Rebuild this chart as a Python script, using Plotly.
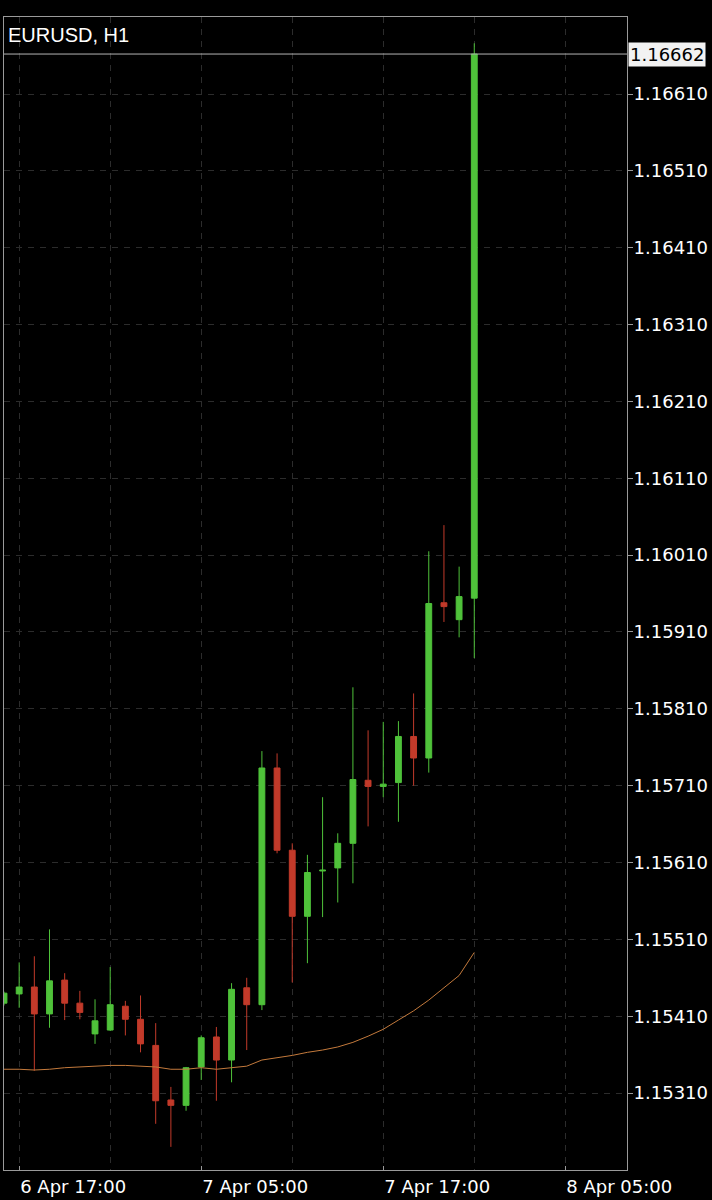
import plotly.graph_objects as go

# hourly EURUSD bars, 6 Apr 16:00 .. 7 Apr 23:00
times = [
    "2021-04-06 16:00", "2021-04-06 17:00", "2021-04-06 18:00", "2021-04-06 19:00",
    "2021-04-06 20:00", "2021-04-06 21:00", "2021-04-06 22:00", "2021-04-06 23:00",
    "2021-04-07 00:00", "2021-04-07 01:00", "2021-04-07 02:00", "2021-04-07 03:00",
    "2021-04-07 04:00", "2021-04-07 05:00", "2021-04-07 06:00", "2021-04-07 07:00",
    "2021-04-07 08:00", "2021-04-07 09:00", "2021-04-07 10:00", "2021-04-07 11:00",
    "2021-04-07 12:00", "2021-04-07 13:00", "2021-04-07 14:00", "2021-04-07 15:00",
    "2021-04-07 16:00", "2021-04-07 17:00", "2021-04-07 18:00", "2021-04-07 19:00",
    "2021-04-07 20:00", "2021-04-07 21:00", "2021-04-07 22:00", "2021-04-07 23:00",
]
opens = [
    1.15427, 1.15439, 1.15448, 1.15413, 1.15457, 1.15427, 1.15387, 1.15392,
    1.15423, 1.15406, 1.15372, 1.15301, 1.15294, 1.15344, 1.15383, 1.15353,
    1.15447, 1.15425, 1.15733, 1.15626, 1.15540, 1.15599, 1.15603, 1.15635,
    1.15717, 1.15709, 1.15714, 1.15774, 1.15746, 1.15948, 1.15926, 1.15954,
]
highs = [
    1.15442, 1.15480, 1.15488, 1.15523, 1.15466, 1.15443, 1.15432, 1.15474,
    1.15430, 1.15437, 1.15401, 1.15318, 1.15344, 1.15385, 1.15396, 1.15453,
    1.15460, 1.15755, 1.15752, 1.15635, 1.15620, 1.15695, 1.15648, 1.15838,
    1.15782, 1.15793, 1.15794, 1.15830, 1.16015, 1.16049, 1.15995, 1.16676,
]
lows = [
    1.15424, 1.15421, 1.15339, 1.15395, 1.15405, 1.15406, 1.15374, 1.15391,
    1.15385, 1.15363, 1.15270, 1.15240, 1.15287, 1.15327, 1.15300, 1.15324,
    1.15366, 1.15418, 1.15622, 1.15454, 1.15479, 1.15539, 1.15558, 1.15583,
    1.15657, 1.15695, 1.15663, 1.15710, 1.15727, 1.15923, 1.15903, 1.15876,
]
closes = [
    1.15440, 1.15448, 1.15413, 1.15456, 1.15427, 1.15415, 1.15404, 1.15425,
    1.15406, 1.15374, 1.15300, 1.15294, 1.15343, 1.15382, 1.15353, 1.15445,
    1.15425, 1.15733, 1.15626, 1.15540, 1.15597, 1.15600, 1.15635, 1.15718,
    1.15709, 1.15712, 1.15774, 1.15746, 1.15947, 1.15943, 1.15956, 1.16662,
]
ma = [
    1.15341, 1.15341, 1.15340, 1.15341, 1.15343, 1.15344, 1.15345, 1.15346,
    1.15346, 1.15345, 1.15344, 1.15341, 1.15341, 1.15343, 1.15341, 1.15343,
    1.15345, 1.15353, 1.15356, 1.15359, 1.15363, 1.15366, 1.15370, 1.15376,
    1.15384, 1.15393, 1.15405, 1.15417, 1.15431, 1.15447, 1.15463, 1.15493,
]
last_price = 1.16662

y_ticks = [1.15310, 1.15410, 1.15510, 1.15610, 1.15710, 1.15810, 1.15910,
           1.16010, 1.16110, 1.16210, 1.16310, 1.16410, 1.16510, 1.16610]
x_ticks = ["2021-04-06 17:00", "2021-04-07 05:00", "2021-04-07 17:00", "2021-04-08 05:00"]
x_labels = ["6 Apr 17:00", "7 Apr 05:00", "7 Apr 17:00", "8 Apr 05:00"]

GREEN = "#4fc23a"
RED = "#c23a2a"
GRID = "#2c2c2c"
FRAME = "#9a9a9a"

fig = go.Figure()

fig.add_trace(go.Scatter(
    x=times, y=ma, mode="lines",
    line=dict(color="#c47a3c", width=1),
    hoverinfo="skip", showlegend=False,
))

fig.add_trace(go.Candlestick(
    x=times, open=opens, high=highs, low=lows, close=closes,
    increasing=dict(line=dict(color=GREEN, width=1), fillcolor=GREEN),
    decreasing=dict(line=dict(color=RED, width=1), fillcolor=RED),
    whiskerwidth=0,
    showlegend=False,
))

# current price line + label
fig.add_shape(type="line", xref="paper", x0=0, x1=1, yref="y",
              y0=last_price, y1=last_price,
              line=dict(color="#b4b4b4", width=1))

fig.add_annotation(
    text=f"{last_price:.5f}", xref="paper", x=1, xanchor="left", xshift=1,
    yref="y", y=last_price, yanchor="middle", showarrow=False,
    bgcolor="#f2f2f2", borderpad=1,
    font=dict(family="DejaVu Sans", size=18, color="black"),
)

fig.add_annotation(
    text="EURUSD, H1", xref="paper", x=0, xanchor="left", xshift=2,
    yref="paper", y=1, yanchor="top", yshift=-5, showarrow=False,
    font=dict(family="Liberation Sans", size=20, color="white"),
)

fig.update_layout(
    width=712, height=1200,
    paper_bgcolor="black", plot_bgcolor="black",
    margin=dict(l=4, r=85, t=17, b=30, autoexpand=False),
    boxgap=0.45,
    font=dict(family="DejaVu Sans", size=18, color="white"),
    hovermode=False,
)

fig.update_xaxes(
    type="date",
    range=["2021-04-06 16:00", "2021-04-08 09:04"],
    rangeslider=dict(visible=False),
    tickmode="array", tickvals=x_ticks, ticktext=x_labels,
    ticklabelposition="outside right",
    ticks="inside", ticklen=4, tickcolor=FRAME,
    showgrid=True, gridcolor=GRID, griddash="6px,6px",
    minor=dict(tickmode="linear", tick0="2021-04-06 17:00", dtick=6 * 3600 * 1000,
               showgrid=True, gridcolor=GRID, griddash="6px,6px", ticks=""),
    showline=True, linecolor=FRAME, linewidth=1, mirror=True,
    zeroline=False,
)

fig.update_yaxes(
    side="right",
    range=[1.152099, 1.167102],
    tickmode="array", tickvals=y_ticks, tickformat=".5f",
    ticks="outside", ticklen=5, tickcolor=FRAME,
    ticklabelstandoff=-3,
    showgrid=True, gridcolor=GRID, griddash="6px,6px",
    showline=True, linecolor=FRAME, linewidth=1, mirror=True,
    zeroline=False,
)

# page body has a default 8px margin; drop it so the figure fills the window
fig.write_html("out.html", post_script="document.body.style.margin='0';",
               config={"displayModeBar": False})
